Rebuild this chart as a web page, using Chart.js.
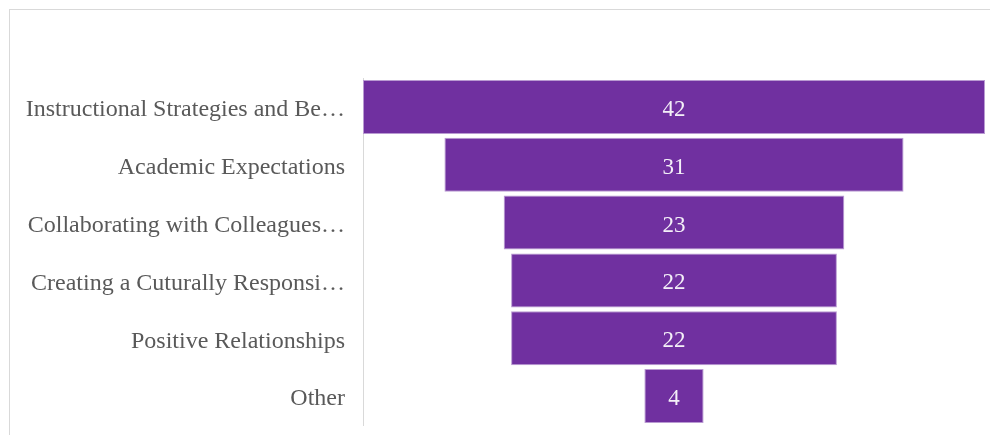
<!DOCTYPE html>
<html>
<head>
<meta charset="utf-8">
<script src="https://cdn.jsdelivr.net/npm/chart.js@4/dist/chart.umd.min.js"></script>
<style>
  html, body { margin: 0; padding: 0; background: #fff; }
  #marco {
    position: absolute; left: 9px; top: 9px; width: 990px; height: 440px;
    border-left: 1px solid #d9d9d9; border-top: 1px solid #d9d9d9;
  }
  #wrap { position: absolute; left: 0; top: 0; width: 990px; height: 435px; }
</style>
</head>
<body>
<div id="marco"></div>
<div id="wrap"><canvas id="chartEmbudo"></canvas></div>
<script>
const categorias = [
    'Instructional Strategies and Be…',
    'Academic Expectations',
    'Collaborating with Colleagues…',
    'Creating a Cuturally Responsi…',
    'Positive Relationships',
    'Other'
];
const valores = [42, 31, 23, 22, 22, 4];

// cada barra queda centrada en 0, de -v/2 a v/2
const rangos = valores.map(v => [-v / 2, v / 2]);

const fuenteSerif = '"Liberation Serif", "Times New Roman", serif';

const etiquetasValor = {
    id: 'etiquetasValor',
    afterDatasetsDraw(chart) {
        const ctx = chart.ctx;
        const meta = chart.getDatasetMeta(0);
        ctx.save();
        ctx.fillStyle = '#f4f0f8';
        ctx.font = '23px ' + fuenteSerif;
        ctx.textAlign = 'center';
        ctx.textBaseline = 'middle';
        meta.data.forEach((barra, i) => {
            const x = (barra.x + barra.base) / 2;
            ctx.fillText(String(valores[i]), x, barra.y + 3);
        });
        ctx.restore();
    }
};

new Chart(document.getElementById('chartEmbudo'), {
    type: 'bar',
    data: {
        labels: categorias,
        datasets: [{
            data: rangos,
            backgroundColor: '#7030a0',
            borderColor: '#b99ad2',
            borderWidth: 1,
            borderSkipped: false,
            barPercentage: 0.935,
            categoryPercentage: 1
        }]
    },
    options: {
        indexAxis: 'y',
        responsive: true,
        maintainAspectRatio: false,
        animation: false,
        layout: { padding: { top: 78, bottom: 10, right: 5, left: 0 } },
        plugins: {
            legend: { display: false },
            tooltip: { enabled: false }
        },
        scales: {
            x: {
                display: false,
                min: -21,
                max: 21
            },
            y: {
                afterFit(scale) {
                    scale.width = 363;
                    scale.paddingTop = 0;
                    scale.paddingBottom = 0;
                },
                grid: { display: false, drawTicks: false },
                border: { display: true, color: '#d9d9d9', width: 1 },
                ticks: {
                    color: '#595959',
                    padding: 18,
                    labelOffset: 3,
                    font: { family: fuenteSerif, size: 24 }
                }
            }
        }
    },
    plugins: [etiquetasValor]
});
</script>
</body>
</html>
